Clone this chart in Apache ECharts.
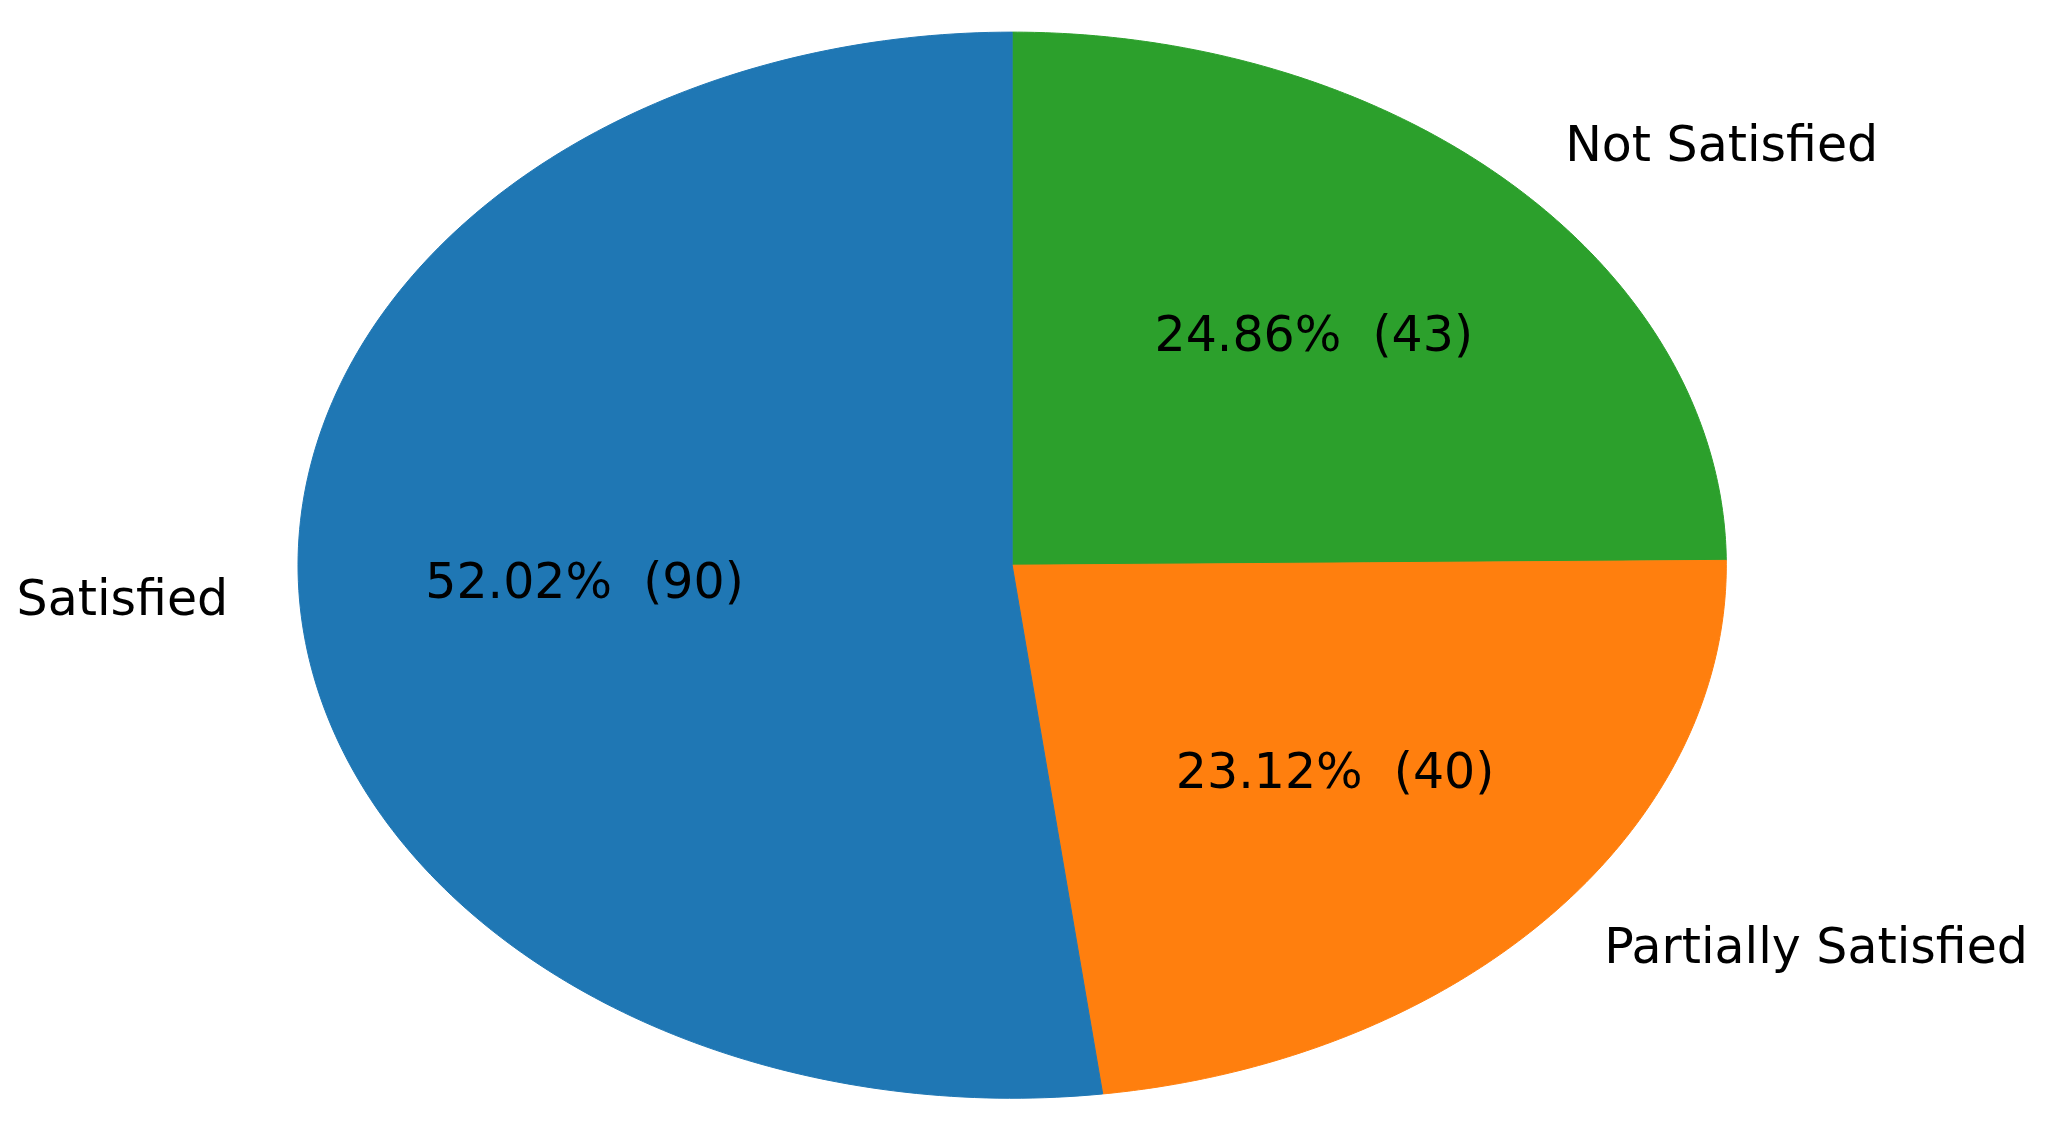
<!DOCTYPE html>
<html><head><meta charset="utf-8">
<script src="https://cdn.jsdelivr.net/npm/echarts@6/dist/echarts.min.js"></script>
<style>html,body{margin:0;padding:0;background:#fff}#c{width:2051px;height:1127px}</style>
</head><body><div id="c"></div>
<script>
const categories = ['Not Satisfied', 'Partially Satisfied', 'Satisfied'];
const values = [43, 40, 90];
const colors = ['#2ca02c', '#ff7f0e', '#1f77b4'];

const total = values.reduce((a, b) => a + b, 0);
let acc = 0;
const data = values.map((v, i) => { const s = acc; acc += v; return [v, s, acc, i]; });

const chart = echarts.init(document.getElementById('c'));
chart.setOption({
  animation: false,
  series: [{
    type: 'custom',
    coordinateSystem: 'none',
    data: data,
    renderItem: function (params, api) {
      const w = api.getWidth(), h = api.getHeight();
      const cx = w * 0.4935, cy = h * 0.5015, rx = w * 0.3482, ry = h * 0.473;
      const v = api.value(0), s = api.value(1), e = api.value(2), i = api.value(3);
      // clockwise from top (90deg)
      const a0 = Math.PI / 2 - s / total * 2 * Math.PI;
      const a1 = Math.PI / 2 - e / total * 2 * Math.PI;
      const pts = [[cx, cy]];
      const n = 200;
      for (let k = 0; k <= n; k++) {
        const a = a0 + (a1 - a0) * k / n;
        pts.push([cx + rx * Math.cos(a), cy - ry * Math.sin(a)]);
      }
      const am = (a0 + a1) / 2;
      const ca = Math.cos(am), sa = Math.sin(am);
      const pct = (v / total * 100).toFixed(2) + '%  (' + v + ')';
      return {
        type: 'group',
        children: [
          { type: 'polygon', shape: { points: pts }, style: { fill: colors[i], stroke: colors[i], lineWidth: 1 } },
          { type: 'text', x: cx + rx * 0.6 * ca, y: cy - ry * 0.6 * sa,
            style: { text: pct, fill: '#000', font: '49px "DejaVu Sans"', align: 'center', verticalAlign: 'middle' } },
          { type: 'text', x: cx + rx * 1.1 * ca, y: cy - ry * 1.1 * sa,
            style: { text: categories[i], fill: '#000', font: '49px "DejaVu Sans"', align: ca >= 0 ? 'left' : 'right', verticalAlign: 'middle' } }
        ]
      };
    }
  }]
});
</script></body></html>
